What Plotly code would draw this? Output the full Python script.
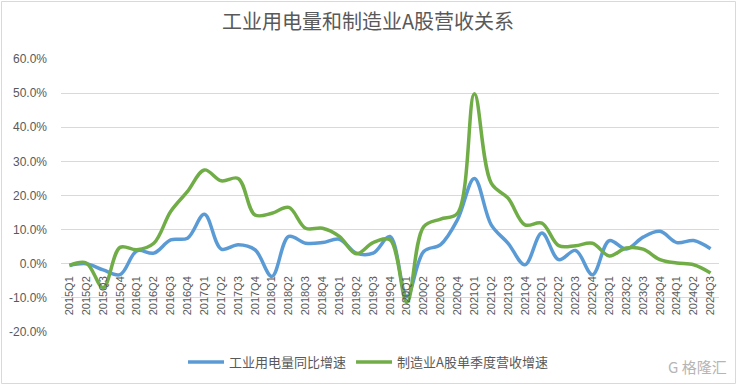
import plotly.graph_objects as go

quarters = [f"{y}Q{q}" for y in range(2015, 2025) for q in range(1, 5)][:39]

power_growth = [-0.5, 0.0, -1.8, -3.2, 3.8, 3.1, 7.0, 7.5, 14.5, 4.3,
                5.6, 4.1, -3.7, 8.0, 6.0, 6.2, 7.2, 3.1, 3.1, 8.0,
                -9.6, 3.6, 5.6, 12.9, 25.0, 11.4, 6.0, -0.3, 9.0, 1.2,
                3.9, -3.2, 6.8, 4.3, 7.8, 9.5, 6.2, 6.8, 4.4]

revenue_growth = [-0.5, 0.2, -7.0, 4.8, 4.1, 6.0, 15.3, 21.2, 27.5, 24.3,
                  25.0, 14.3, 14.8, 16.5, 10.4, 10.4, 8.0, 2.9, 6.2, 7.0,
                  -11.3, 10.9, 13.1, 14.8, 49.8, 23.6, 19.2, 11.4, 11.9, 5.3,
                  5.3, 6.0, 2.3, 4.6, 4.3, 1.2, 0.2, -0.3, -2.7]

series_names = ["工业用电量同比增速", "制造业A股单季度营收增速"]
title_text = "工业用电量和制造业A股营收关系"
y_ticks = [-20, -10, 0, 10, 20, 30, 40, 50, 60]

FONT = "Liberation Sans, Noto Sans CJK SC, sans-serif"
CJK = "Noto Sans CJK SC, sans-serif"
GRAY = "#595959"

fig = go.Figure()
fig.add_trace(go.Scatter(x=quarters, y=power_growth, name=series_names[0], mode="lines",
                         line=dict(color="#5B9BD5", width=3.5, shape="spline", smoothing=1.0)))
fig.add_trace(go.Scatter(x=quarters, y=revenue_growth, name=series_names[1], mode="lines",
                         line=dict(color="#70AD47", width=3.5, shape="spline", smoothing=1.0)))

L, R, T, B = 61, 18, 59, 53
W, H = 737, 385
pw, ph = W - L - R, H - T - B

fig.update_layout(
    width=W, height=H,
    margin=dict(l=L, r=R, t=T, b=B, autoexpand=False),
    paper_bgcolor="white", plot_bgcolor="white",
    font=dict(family=FONT, color=GRAY),
    title=dict(text=title_text, x=368 / W, xref="container", xanchor="center",
               y=1 - 22 / H, yref="container", yanchor="middle",
               font=dict(size=20, color=GRAY, family=CJK)),
    showlegend=True,
    legend=dict(orientation="h", x=(368 - L) / pw, xanchor="center", y=-(362 - (T + ph)) / ph,
                yanchor="middle", font=dict(size=13, color=GRAY, family=CJK),
                itemwidth=36, traceorder="normal", bgcolor="rgba(0,0,0,0)"),
    xaxis=dict(type="category", categoryorder="array", categoryarray=quarters,
               range=[-0.5, len(quarters) - 0.5],
               showgrid=False, showline=False, tickangle=-90, ticks="",
               tickfont=dict(size=11, color=GRAY, family=FONT), zeroline=False,
               ticklabelstandoff=-59, automargin=False),
    yaxis=dict(range=[-20, 60], tickvals=y_ticks, ticktext=[f"{v:.1f}%" for v in y_ticks],
               showgrid=True, gridcolor="#D9D9D9", gridwidth=1, zeroline=False,
               showline=False, ticks="", tickfont=dict(size=12, color=GRAY, family=FONT),
               ticklabelstandoff=13, automargin=False),
)

# outer chart border
fig.add_shape(type="rect", xref="paper", yref="paper",
              x0=-(L - 1.5) / pw, x1=1 + (R - 1.5) / pw,
              y0=-(B - 1.5) / ph, y1=1 + (T - 1.5) / ph,
              line=dict(color="#D9D9D9", width=1), fillcolor="rgba(0,0,0,0)", layer="above")

# watermark
fig.add_annotation(text="G 格隆汇", xref="paper", yref="paper",
                   x=1 + (R - 8) / pw, y=-(366 - (T + ph)) / ph, xanchor="right", yanchor="middle",
                   showarrow=False, font=dict(size=15, color="#B5B5B5", family=CJK))

fig.write_html("out.html", config={"displayModeBar": False},
               post_script="document.body.style.margin='0px';")
